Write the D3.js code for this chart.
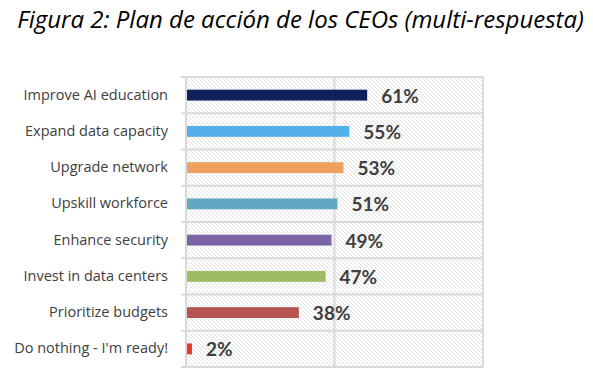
<!DOCTYPE html>
<html>
<head>
<meta charset="utf-8">
<script src="https://cdn.jsdelivr.net/npm/d3@7"></script>
<style>
  html, body { margin: 0; padding: 0; background: #ffffff; }
  svg { display: block; }
</style>
</head>
<body>
<svg id="chart"></svg>
<script>
// chart data
var categories = [
  "Improve AI education",
  "Expand data capacity",
  "Upgrade network",
  "Upskill workforce",
  "Enhance security",
  "Invest in data centers",
  "Prioritize budgets",
  "Do nothing - I'm ready!"
];
var values = [0.61, 0.55, 0.53, 0.51, 0.49, 0.47, 0.38, 0.02];
var gridTicks = [0, 0.5, 1];
var barColors = ["#0f205e", "#54b0ea", "#efa05e", "#62a8c4", "#7b64a5", "#9cbc64", "#b4534f", "#e8352c"];
var title = "Figura 2: Plan de acción de los CEOs (multi-respuesta)";

var width = 593, height = 379;
var plot = { left: 186, right: 483, top: 77, bottom: 367 };

var svg = d3.select("#chart").attr("width", width).attr("height", height);

// hatch pattern for the plot background
var defs = svg.append("defs");
var pat = defs.append("pattern")
  .attr("id", "hatch")
  .attr("patternUnits", "userSpaceOnUse")
  .attr("width", 4)
  .attr("height", 4);
pat.append("path")
  .attr("d", "M-1,-1 L5,5 M-1,3 L1,5 M3,-1 L5,1")
  .attr("stroke", "#d4d4d4")
  .attr("stroke-width", 0.7);

var x = d3.scaleLinear().domain([0, 1]).range([plot.left, plot.right]);
var y = d3.scaleBand().domain(categories)
  .range([plot.top, plot.bottom])
  .paddingInner(0.7)
  .paddingOuter(0.35);

svg.append("rect")
  .attr("x", plot.left)
  .attr("y", plot.top)
  .attr("width", plot.right - plot.left)
  .attr("height", plot.bottom - plot.top)
  .attr("fill", "url(#hatch)");

// horizontal separators between categories
var step = y.step();
var rows = d3.range(categories.length + 1).map(function (i) {
  return plot.top + i * step;
});
svg.selectAll(".hgrid")
  .data(rows)
  .enter()
  .append("line")
  .attr("class", "hgrid")
  .attr("x1", plot.left - 5)
  .attr("x2", plot.right)
  .attr("y1", function (d) { return d; })
  .attr("y2", function (d) { return d; })
  .attr("stroke", "#d9d9d9")
  .attr("stroke-width", 2);

// vertical gridlines
svg.selectAll(".vgrid")
  .data(gridTicks)
  .enter()
  .append("line")
  .attr("class", "vgrid")
  .attr("x1", function (d) { return x(d); })
  .attr("x2", function (d) { return x(d); })
  .attr("y1", plot.top)
  .attr("y2", plot.bottom)
  .attr("stroke", "#d9d9d9")
  .attr("stroke-width", 2);

// bars
svg.selectAll(".bar")
  .data(values)
  .enter()
  .append("rect")
  .attr("class", "bar")
  .attr("x", x(0) + 1)
  .attr("y", function (d, i) { return y(categories[i]); })
  .attr("width", function (d) { return x(d) - x(0) - 1; })
  .attr("height", y.bandwidth())
  .attr("fill", function (d, i) { return barColors[i]; });

// value labels
svg.selectAll(".val")
  .data(values)
  .enter()
  .append("text")
  .attr("class", "val")
  .attr("x", function (d) { return x(d) + 14; })
  .attr("y", function (d, i) { return y(categories[i]) + y.bandwidth() / 2 + 7.5; })
  .attr("font-family", "Lato, sans-serif")
  .attr("font-weight", "bold")
  .attr("font-size", "19px")
  .attr("fill", "#404040")
  .text(function (d) { return d3.format(".0%")(d); });

// category labels
svg.selectAll(".cat")
  .data(categories)
  .enter()
  .append("text")
  .attr("class", "cat")
  .attr("x", 168)
  .attr("y", function (d) { return y(d) + y.bandwidth() / 2 + 4.5; })
  .attr("text-anchor", "end")
  .attr("font-family", "'Open Sans', sans-serif")
  .attr("font-size", "14.5px")
  .attr("fill", "#404040")
  .text(function (d) { return d; });

// title
svg.append("text")
  .attr("x", 300.5)
  .attr("y", 28)
  .attr("text-anchor", "middle")
  .attr("font-family", "'Open Sans', sans-serif")
  .attr("font-style", "italic")
  .attr("font-size", "24px")
  .attr("fill", "#000000")
  .text(title);
</script>
</body>
</html>
